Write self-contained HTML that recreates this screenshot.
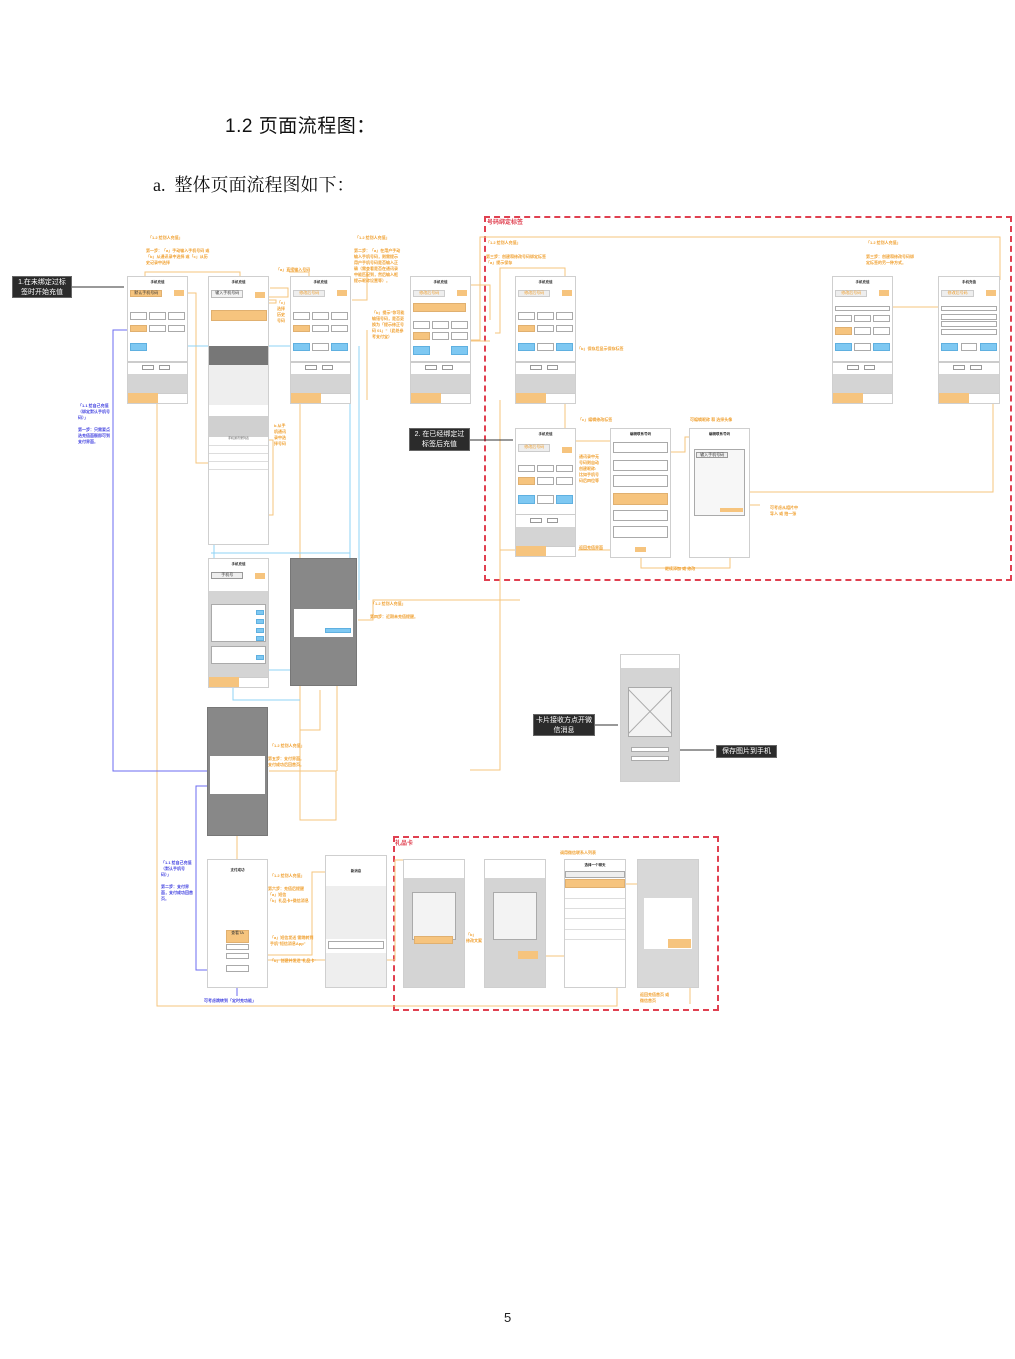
<!DOCTYPE html>
<html><head><meta charset="utf-8">
<style>
*{margin:0;padding:0;box-sizing:border-box}
body{width:1015px;height:1359px;background:#fff;position:relative;overflow:hidden;font-family:"Liberation Sans","Noto Sans CJK SC",sans-serif}
.abs{position:absolute}
.ph{position:absolute;background:#fff;border:1px solid #cfcfcf;overflow:hidden}
.ph i{position:absolute;display:block;font-style:normal;font-size:3px;line-height:1.2;color:#555;text-align:center}
.t{left:0;top:2%;width:100%;font-size:3.5px!important;color:#222!important;font-weight:bold}
.b1{left:4%;top:10%;width:54%;height:6%;background:#f6c47e;border:1px solid #e0b070;font-size:4px!important;color:#333!important}
.b2{left:78%;top:10%;width:17%;height:5%;background:#f6c47e}
.c{width:28%;height:6%;border:1px solid #aaa;background:#fff}
.co{background:#f6c47e!important;border-color:#e0b070!important}
.bl{height:7%;background:#7ec8f2;border:1px solid #5fb0e0}
.sep{left:0;top:67%;width:100%;height:1%;background:#ccc}
.sb{left:0;top:68%;width:100%;height:8%;background:#fff}
.sbb{top:70%;width:20%;height:4%;border:1px solid #999}
.ga{left:0;top:77%;width:100%;height:15%;background:#d4d4d4}
.bo{left:0;top:92%;width:50%;height:8%;background:#f6c47e}
.bw{left:50%;top:92%;width:50%;height:8%;background:#fff;border-top:1px solid #ccc}
.lab{position:absolute;font-size:4px;line-height:6px;color:#f0a030;white-space:nowrap;font-weight:bold}
.labb{position:absolute;font-size:4px;line-height:6px;color:#4040e0;font-weight:bold}
.blk{position:absolute;background:#2b2b2b;color:#fff;font-size:8px;line-height:10px;text-align:center;padding:1px 2px;border:1px solid #666}
.red{position:absolute;border:2px dashed #e04050}
.rt{position:absolute;color:#e04050;font-size:6px;font-weight:bold}
</style></head><body>

<div class="abs" style="left:225px;top:111px;font-size:19px;color:#111;letter-spacing:0.5px">1.2 页面流程图：</div>
<div class="abs" style="left:153px;top:171px;font-size:18px;color:#111;font-family:'Liberation Serif','Noto Serif CJK SC',serif">a.&nbsp; 整体页面流程图如下：</div>
<div class="abs" style="left:504px;top:1310px;font-size:13px;color:#222">5</div>

<div class="red" style="left:484px;top:216px;width:528px;height:365px"></div>
<div class="rt" style="left:487px;top:217px">号码绑定标签</div>
<div class="red" style="left:393px;top:836px;width:326px;height:175px"></div>
<div class="rt" style="left:395px;top:838px">礼品卡</div>

<svg class="abs" style="left:0;top:0" width="1015" height="1359">
<g fill="none" stroke="#f6c47e" stroke-width="1">
<polyline points="145,291 145,272 240,272 240,277"/>
<polyline points="188,293 196,293 196,463 211,463"/>
<polyline points="270,288 288,288 288,297 268,297"/>
<polyline points="265,300 276,300 276,303 258,303"/>
<polyline points="289,272 309,272 309,277"/>
<polyline points="367,270 367,300 352,300"/>
<polyline points="432,285 490,285 490,320"/>
<polyline points="470,340 480,340 480,237 1000,237 1000,280"/>
<polyline points="468,341 490,341"/>
<polyline points="495,333 500,333 500,268 565,268 565,440"/>
<polyline points="300,330 300,820 336,820 336,771 269,771"/>
<polyline points="268,440 273,440 273,515 269,515"/>
<polyline points="157,403 157,1006 617,1006 617,930"/>
<polyline points="311,330 311,400"/>
<polyline points="367,330 367,400"/>
<polyline points="576,441 650,441 650,437"/>
<polyline points="670,452 685,452 685,437 740,437"/>
<polyline points="750,492 993,492 993,320"/>
<polyline points="855,307 1000,307"/>
<polyline points="750,505 760,505"/>
<polyline points="641,553 641,568 730,568 730,517"/>
<polyline points="615,550 578,550"/>
<polyline points="500,400 500,550 515,550"/>
<polyline points="500,550 500,720 500,770 470,770"/>
<polyline points="358,620 373,620 373,600 520,600"/>
<polyline points="268,955 312,955 312,872 330,872"/>
<polyline points="268,960 395,960 395,860 410,860"/>
<polyline points="410,940 465,940"/>
<polyline points="546,956 565,956 565,860 600,860"/>
<polyline points="626,884 638,884 638,862 655,862"/>
<polyline points="690,935 690,1004"/>
<polyline points="237,836 237,926"/>
<polyline points="320,690 320,730 300,730 300,700"/>
<polyline points="337,628 337,771"/>
</g>
<g fill="none" stroke="#8fd3f5" stroke-width="1">
<polyline points="188,346 350,346"/>
<polyline points="214,415 214,560"/>
<polyline points="350,346 350,600"/>
<polyline points="359,346 359,600"/>
<polyline points="211,553 350,553"/>
<polyline points="233,600 233,700 300,700"/>
<polyline points="233,670 336,670"/>
</g>
<g fill="none" stroke="#6b6bf0" stroke-width="1">
<polyline points="127,330 113,330 113,771 207,771"/>
<polyline points="230,786 196,786 196,970 230,970"/>
<polyline points="237,970 237,996"/>
</g>
<g fill="none" stroke="#333" stroke-width="1">
<line x1="72" y1="287" x2="124" y2="287"/>
<line x1="470" y1="440" x2="513" y2="440"/>
<line x1="595" y1="725" x2="618" y2="725"/>
<line x1="670" y1="750" x2="714" y2="750"/>
</g>
</svg>

<div class="blk" style="left:12px;top:276px;width:60px;height:22px;font-size:7px;line-height:10px">1.在未绑定过标签时开始充值</div>
<div class="blk" style="left:409px;top:428px;width:61px;height:23px;font-size:7px;line-height:10px">2. 在已经绑定过标签后充值</div>
<div class="blk" style="left:533px;top:714px;width:62px;height:22px;font-size:7px;line-height:10px">卡片接收方点开微信消息</div>
<div class="blk" style="left:716px;top:745px;width:61px;height:13px;font-size:7px;line-height:10px">保存图片到手机</div>

<div class="ph" style="left:127px;top:276px;width:61px;height:128px">
<i class="t">手机充值</i><i class="b1">默认手机号码</i><i class="b2"></i>
<i class="c" style="left:4%;top:28%"></i><i class="c" style="left:36%;top:28%"></i><i class="c" style="left:68%;top:28%"></i>
<i class="c co" style="left:4%;top:38%"></i><i class="c" style="left:36%;top:38%"></i><i class="c" style="left:68%;top:38%"></i>
<i class="bl" style="left:4%;top:52%;width:28%"></i>
<i class="sep"></i><i class="sb"></i><i class="sbb" style="left:24%"></i><i class="sbb" style="left:52%"></i><i class="ga"></i><i class="bo"></i><i class="bw"></i></div>

<div class="ph" style="left:290px;top:276px;width:61px;height:128px">
<i class="t">手机充值</i><i class="b1" style="background:#eee;color:#f0a030!important;border-color:#ccc">修改后号码</i><i class="b2"></i>
<i class="c" style="left:4%;top:28%"></i><i class="c" style="left:36%;top:28%"></i><i class="c" style="left:68%;top:28%"></i>
<i class="c co" style="left:4%;top:38%"></i><i class="c" style="left:36%;top:38%"></i><i class="c" style="left:68%;top:38%"></i>
<i class="bl" style="left:4%;top:52%;width:28%"></i><i class="c" style="left:36%;top:52%;height:7%"></i><i class="bl" style="left:68%;top:52%;width:28%"></i>
<i class="sep"></i><i class="sb"></i><i class="sbb" style="left:24%"></i><i class="sbb" style="left:52%"></i><i class="ga"></i><i class="bo"></i><i class="bw"></i></div>

<div class="ph" style="left:410px;top:276px;width:61px;height:128px">
<i class="t">手机充值</i><i class="b1" style="background:#eee;color:#f0a030!important;border-color:#ccc">修改后号码</i><i class="b2"></i>
<i class="b1" style="top:21%;width:90%;height:7%"></i>
<i class="c" style="left:4%;top:35%"></i><i class="c" style="left:36%;top:35%"></i><i class="c" style="left:68%;top:35%"></i>
<i class="c co" style="left:4%;top:44%"></i><i class="c" style="left:36%;top:44%"></i><i class="c" style="left:68%;top:44%"></i>
<i class="bl" style="left:4%;top:55%;width:28%"></i><i class="bl" style="left:68%;top:55%;width:28%"></i>
<i class="sep"></i><i class="sb"></i><i class="sbb" style="left:24%"></i><i class="sbb" style="left:52%"></i><i class="ga"></i><i class="bo"></i><i class="bw"></i></div>

<div class="ph" style="left:515px;top:276px;width:61px;height:128px">
<i class="t">手机充值</i><i class="b1" style="background:#eee;color:#f0a030!important;border-color:#ccc">修改后号码</i><i class="b2"></i>
<i class="c" style="left:4%;top:28%"></i><i class="c" style="left:36%;top:28%"></i><i class="c" style="left:68%;top:28%"></i>
<i class="c co" style="left:4%;top:38%"></i><i class="c" style="left:36%;top:38%"></i><i class="c" style="left:68%;top:38%"></i>
<i class="bl" style="left:4%;top:52%;width:28%"></i><i class="c" style="left:36%;top:52%;height:7%"></i><i class="bl" style="left:68%;top:52%;width:28%"></i>
<i class="sep"></i><i class="sb"></i><i class="sbb" style="left:24%"></i><i class="sbb" style="left:52%"></i><i class="ga"></i><i class="bo"></i><i class="bw"></i></div>

<div class="ph" style="left:832px;top:276px;width:61px;height:128px">
<i class="t">手机充值</i><i class="b1" style="background:#eee;color:#f0a030!important;border-color:#ccc">修改后号码</i><i class="b2"></i>
<i class="c" style="left:4%;top:23%;width:92%;height:4%"></i>
<i class="c" style="left:4%;top:30%"></i><i class="c" style="left:36%;top:30%"></i><i class="c" style="left:68%;top:30%"></i>
<i class="c co" style="left:4%;top:40%"></i><i class="c" style="left:36%;top:40%"></i><i class="c" style="left:68%;top:40%"></i>
<i class="bl" style="left:4%;top:52%;width:28%"></i><i class="c" style="left:36%;top:52%;height:7%"></i><i class="bl" style="left:68%;top:52%;width:28%"></i>
<i class="sep"></i><i class="sb"></i><i class="sbb" style="left:24%"></i><i class="sbb" style="left:52%"></i><i class="ga"></i><i class="bo"></i><i class="bw"></i></div>

<div class="ph" style="left:938px;top:276px;width:62px;height:128px">
<i class="t">手机充值</i><i class="b1" style="background:#eee;color:#f0a030!important;border-color:#ccc">修改后号码</i><i class="b2"></i>
<i class="c" style="left:4%;top:23%;width:92%;height:4%"></i>
<i class="c" style="left:4%;top:29%;width:92%;height:5%"></i><i class="c" style="left:4%;top:35%;width:92%;height:5%"></i><i class="c" style="left:4%;top:41%;width:92%;height:5%"></i>
<i class="bl" style="left:4%;top:52%;width:28%"></i><i class="c" style="left:36%;top:52%;height:7%"></i><i class="bl" style="left:68%;top:52%;width:28%"></i>
<i class="sep"></i><i class="sb"></i><i class="sbb" style="left:24%"></i><i class="sbb" style="left:52%"></i><i class="ga"></i><i class="bo"></i><i class="bw"></i></div>

<div class="ph" style="left:515px;top:428px;width:61px;height:129px">
<i class="t">手机充值</i><i class="b1" style="top:12%;background:#eee;color:#f0a030!important;border-color:#ccc">修改后号码</i><i class="b2" style="top:14%"></i>
<i class="c" style="left:4%;top:28%"></i><i class="c" style="left:36%;top:28%"></i><i class="c" style="left:68%;top:28%"></i>
<i class="c co" style="left:4%;top:38%"></i><i class="c" style="left:36%;top:38%"></i><i class="c" style="left:68%;top:38%"></i>
<i class="bl" style="left:4%;top:52%;width:28%"></i><i class="c" style="left:36%;top:52%;height:7%"></i><i class="bl" style="left:68%;top:52%;width:28%"></i>
<i class="sep"></i><i class="sb"></i><i class="sbb" style="left:24%"></i><i class="sbb" style="left:52%"></i><i class="ga"></i><i class="bo"></i><i class="bw"></i></div>

<div class="ph" style="left:208px;top:276px;width:61px;height:269px">
<i class="t" style="top:1%">手机充值</i>
<i class="b1" style="top:5%;height:3%;background:#f2f2f2;border-color:#bbb">输入手机号码</i><i class="b2" style="top:5.5%;height:2.5%"></i>
<i class="b1" style="top:12.5%;width:94%;height:4%"></i>
<i style="left:0;top:26%;width:100%;height:7%;background:#777"></i>
<i style="left:0;top:33%;width:100%;height:15%;background:#eee"></i>
<i style="left:0;top:52%;width:100%;height:8%;background:#d0d0d0"></i>
<i style="left:0;top:60%;width:100%;height:2%;font-size:3px">手机通讯录列表</i>
<i style="left:0;top:63%;width:100%;height:1px;background:#ddd"></i>
<i style="left:0;top:66%;width:100%;height:1px;background:#ddd"></i>
<i style="left:0;top:69%;width:100%;height:1px;background:#ddd"></i>
<i style="left:0;top:72%;width:100%;height:1px;background:#ddd"></i>
</div>

<div class="ph" style="left:610px;top:428px;width:61px;height:130px">
<i class="t">编辑联系号码</i>
<i class="c" style="left:4%;top:10%;width:92%;height:9%"></i>
<i class="c" style="left:4%;top:24%;width:92%;height:9%"></i>
<i class="c" style="left:4%;top:36%;width:92%;height:9%"></i>
<i class="c co" style="left:4%;top:50%;width:92%;height:9%"></i>
<i class="c" style="left:4%;top:63%;width:92%;height:9%"></i>
<i class="c" style="left:4%;top:76%;width:92%;height:9%"></i>
<i class="b2" style="left:40%;top:92%;width:20%;height:4%"></i></div>
<div class="ph" style="left:689px;top:428px;width:61px;height:130px">
<i class="t">编辑联系号码</i>
<i class="c" style="left:6%;top:16%;width:88%;height:52%;background:#f7f7f7"></i>
<i class="b1" style="left:10%;top:18%;width:55%;height:5%;background:#eee;border-color:#999">输入手机号码</i>
<i class="b2" style="left:50%;top:62%;width:40%;height:3%"></i></div>

<div class="ph" style="left:208px;top:558px;width:61px;height:130px">
<i class="t">手机充值</i>
<i class="b1" style="top:10%;background:#eee;border-color:#999">手机号</i><i class="b2" style="top:11%"></i>
<i style="left:0;top:25%;width:100%;height:67%;background:#d4d4d4"></i>
<i class="c" style="left:4%;top:35%;width:92%;height:30%"></i>
<i class="c" style="left:4%;top:68%;width:92%;height:14%"></i>
<i class="bl" style="left:80%;top:40%;width:14%;height:4%"></i><i class="bl" style="left:80%;top:47%;width:14%;height:4%"></i><i class="bl" style="left:80%;top:54%;width:14%;height:4%"></i><i class="bl" style="left:80%;top:60%;width:14%;height:4%"></i><i class="bl" style="left:80%;top:75%;width:14%;height:4%"></i>
<i class="bo"></i><i class="bw"></i></div>

<div class="ph" style="left:290px;top:558px;width:67px;height:128px;background:#888;border-color:#777">
<i style="left:5%;top:40%;width:90%;height:22%;background:#fff"></i>
<i class="bl" style="left:52%;top:55%;width:40%;height:4%"></i></div>
<div class="ph" style="left:207px;top:707px;width:61px;height:129px;background:#888;border-color:#777">
<i style="left:4%;top:38%;width:92%;height:30%;background:#fff"></i></div>

<div class="ph" style="left:620px;top:654px;width:60px;height:128px;background:#d4d4d4">
<i style="left:0;top:0;width:100%;height:10%;background:#fff"></i>
<i class="c" style="left:12%;top:25%;width:76%;height:40%;background:#f3f3f3"></i>
<svg style="position:absolute;left:12%;top:27%" width="44" height="45"><line x1="0" y1="0" x2="44" y2="45" stroke="#aaa"/><line x1="44" y1="0" x2="0" y2="45" stroke="#aaa"/></svg>
<i class="c" style="left:18%;top:73%;width:64%;height:4%"></i><i class="c" style="left:18%;top:80%;width:64%;height:4%"></i></div>

<div class="ph" style="left:207px;top:859px;width:61px;height:129px">
<i class="t" style="top:6%">支付成功</i>
<i class="b1" style="left:30%;top:55%;width:40%;height:10%">查看TA</i>
<i class="c" style="left:30%;top:66%;width:40%;height:5%"></i><i class="c" style="left:30%;top:73%;width:40%;height:5%"></i><i class="c" style="left:30%;top:83%;width:40%;height:5%"></i></div>
<div class="ph" style="left:325px;top:855px;width:62px;height:133px">
<i class="t" style="top:10%">新消息</i>
<i style="left:0;top:23%;width:100%;height:40%;background:#eee"></i>
<i class="c" style="left:4%;top:65%;width:92%;height:6%"></i>
<i style="left:0;top:74%;width:100%;height:26%;background:#eee"></i></div>
<div class="ph" style="left:403px;top:859px;width:62px;height:129px;background:#d4d4d4">
<i style="left:0;top:0;width:100%;height:14%;background:#fff"></i>
<i class="c" style="left:14%;top:25%;width:72%;height:38%;background:#f3f3f3"></i>
<i class="b1" style="left:16%;top:60%;width:66%;height:6%"></i></div>
<div class="ph" style="left:484px;top:859px;width:62px;height:129px;background:#d4d4d4">
<i style="left:0;top:0;width:100%;height:14%;background:#fff"></i>
<i class="c" style="left:14%;top:25%;width:72%;height:38%;background:#f3f3f3"></i>
<i class="b2" style="left:55%;top:72%;width:34%;height:6%"></i></div>
<div class="ph" style="left:564px;top:859px;width:62px;height:129px">
<i class="t">选择一个聊天</i>
<i class="c" style="left:0;top:9%;width:100%;height:5%;background:#eee"></i>
<i class="c co" style="left:0;top:15%;width:100%;height:7%"></i>
<i style="left:0;top:30%;width:100%;height:1px;background:#ddd"></i><i style="left:0;top:38%;width:100%;height:1px;background:#ddd"></i><i style="left:0;top:46%;width:100%;height:1px;background:#ddd"></i><i style="left:0;top:54%;width:100%;height:1px;background:#ddd"></i><i style="left:0;top:62%;width:100%;height:1px;background:#ddd"></i></div>
<div class="ph" style="left:637px;top:859px;width:62px;height:129px;background:#d8d8d8">
<i style="left:10%;top:30%;width:80%;height:40%;background:#fff"></i>
<i class="b2" style="left:50%;top:62%;width:38%;height:7%"></i></div>

<div class="lab" style="left:148px;top:235px">「1.2 给别人充值」</div>
<div class="lab" style="left:146px;top:248px">第一步：「a」手动输入手机号码 或<br>「b」从通讯录中选择 或「c」从历<br>史记录中选择</div>
<div class="lab" style="left:355px;top:235px">「1.2 给别人充值」</div>
<div class="lab" style="left:354px;top:248px">第二步：「a」在用户手动<br>输入手机号码，则需提示<br>用户手机号码是否输入正<br>确（需查看是否在通讯录<br>中能匹配到，然后输入框<br>提示昵称设置等）。</div>
<div class="lab" style="left:372px;top:310px">「b」提示"你可能<br>输错号码，是否更<br>换为「提示修正号<br>码 01」"（此处参<br>考支付宝）</div>
<div class="lab" style="left:486px;top:240px">「1.2 给别人充值」</div>
<div class="lab" style="left:486px;top:254px">第三步：创建和修改号码绑定标签<br>「a」提示保存</div>
<div class="lab" style="left:866px;top:240px">「1.2 给别人充值」</div>
<div class="lab" style="left:866px;top:254px">第三步：创建和修改号码绑<br>定标签的另一种方式。</div>
<div class="lab" style="left:577px;top:346px">「b」保存后显示保存标签</div>
<div class="lab" style="left:578px;top:417px">「c」编辑修改标签</div>
<div class="lab" style="left:690px;top:417px">可编辑昵称 和 选择头像</div>
<div class="lab" style="left:579px;top:454px">通讯录中无<br>号码则自动<br>创建昵称:<br>比如手机号<br>码后四位等</div>
<div class="lab" style="left:579px;top:545px">返回充值界面</div>
<div class="lab" style="left:665px;top:566px">继续添加 或 修改</div>
<div class="lab" style="left:770px;top:505px">可考虑从相片中<br>导入 或 拍一张</div>
<div class="lab" style="left:276px;top:267px">「a」直接输入号码</div>
<div class="lab" style="left:277px;top:300px">「c」<br>选择<br>历史<br>号码</div>
<div class="lab" style="left:274px;top:423px">b.从手<br>机通讯<br>录中选<br>择号码</div>
<div class="lab" style="left:371px;top:601px">「1.2 给别人充值」</div>
<div class="lab" style="left:370px;top:614px">第四步：近期未充值提醒。</div>
<div class="lab" style="left:270px;top:743px">「1.2 给别人充值」</div>
<div class="lab" style="left:268px;top:756px">第五步：支付界面。<br>支付成功后回首页。</div>
<div class="lab" style="left:270px;top:873px">「1.2 给别人充值」</div>
<div class="lab" style="left:268px;top:886px">第六步：充值后提醒<br>「a」短信<br>「b」礼品卡+微信消息</div>
<div class="lab" style="left:270px;top:935px">「a」短信发送 需跳转到<br>手机"短信消息App"</div>
<div class="lab" style="left:270px;top:958px">「b」创建并发送"礼品卡"</div>
<div class="lab" style="left:560px;top:850px">调用微信联系人列表</div>
<div class="lab" style="left:466px;top:932px">「b」<br>修改文案</div>
<div class="lab" style="left:640px;top:992px">返回充值首页 或<br>微信首页</div>

<div class="labb" style="left:78px;top:403px;width:32px;white-space:normal">「1.1 给自己充值（绑定默认手机号码）」<br><br>第一步：只需要点选充值面额即可到支付界面。</div>
<div class="labb" style="left:161px;top:860px;width:32px;white-space:normal">「1.1 给自己充值（默认手机号码）」<br><br>第二步：支付界面，支付成功回首页。</div>
<div class="labb" style="left:204px;top:998px;white-space:nowrap">可考虑跳转到「定时充功能」</div>

</body></html>
